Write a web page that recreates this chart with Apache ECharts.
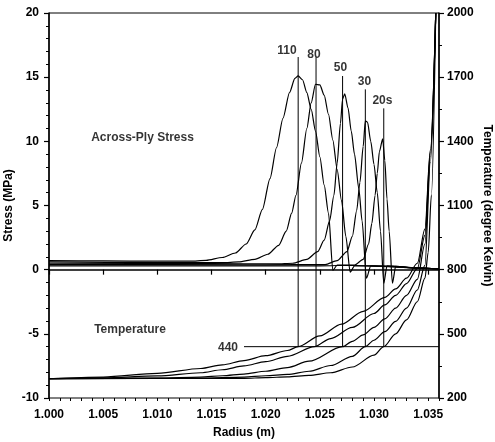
<!DOCTYPE html>
<html><head><meta charset="utf-8">
<script src="https://cdn.jsdelivr.net/npm/echarts@6/dist/echarts.min.js"></script>
<style>html,body{margin:0;padding:0;background:#fff}#c{width:495px;height:442px}</style>
</head><body><div id="c"></div>
<script>
// ---- Across-ply stress (MPa) vs radius (m) ----
const stress110 = [[1.000,0.70],[1.005,0.68],[1.010,0.66],[1.013,0.66],[1.0145,0.72],[1.016,0.95],[1.0172,1.3],[1.0182,2.0],[1.0190,3.1],[1.0197,4.7],[1.0204,7.1],[1.0210,9.5],[1.0216,11.8],[1.0222,13.8],[1.0227,14.9],[1.0230,15.1],[1.0234,14.8],[1.0238,13.8],[1.0242,12.5],[1.0246,10.8],[1.0250,8.8],[1.0254,6.6],[1.0258,4.4],[1.0262,-0.05],[1.0266,0.35],[1.030,0.3],[1.034,0.15],[1.036,0.05]];
const stress80 = [[1.000,0.60],[1.010,0.56],[1.016,0.55],[1.0175,0.6],[1.019,0.8],[1.0202,1.2],[1.0212,1.9],[1.0219,3.0],[1.0224,4.4],[1.0228,5.8],[1.0233,8.3],[1.0238,11.0],[1.0242,13.0],[1.0246,14.45],[1.0250,14.4],[1.0254,13.6],[1.0258,12.1],[1.0262,10.1],[1.0266,7.8],[1.0270,5.4],[1.0274,2.6],[1.0278,-0.2],[1.0282,0.3],[1.030,0.28],[1.034,0.14],[1.036,0.05]];
const stress50 = [[1.000,0.50],[1.015,0.47],[1.021,0.45],[1.0225,0.5],[1.0238,0.8],[1.0248,1.4],[1.0254,2.3],[1.0259,3.8],[1.0263,5.8],[1.0266,8.3],[1.0269,11.4],[1.0271,13.3],[1.0273,13.7],[1.0276,12.6],[1.0279,10.8],[1.0282,9.0],[1.0286,6.3],[1.0289,3.8],[1.0293,-0.67],[1.0297,0.3],[1.032,0.25],[1.034,0.13],[1.036,0.05]];
const stress30 = [[1.000,0.40],[1.020,0.38],[1.0255,0.4],[1.0266,0.7],[1.0275,1.4],[1.0280,2.6],[1.0284,4.6],[1.0287,6.8],[1.0290,9.6],[1.0292,11.6],[1.0294,11.5],[1.0297,10.0],[1.0300,8.2],[1.0303,6.0],[1.0306,3.0],[1.0309,-1.06],[1.0312,0.3],[1.034,0.12],[1.036,0.05]];
const stress20s = [[1.000,0.30],[1.025,0.3],[1.0282,0.35],[1.0290,0.8],[1.0295,2.0],[1.0298,3.6],[1.0301,5.8],[1.0303,7.5],[1.0305,9.2],[1.0308,10.2],[1.0310,8.5],[1.0312,5.5],[1.0314,3.0],[1.0317,-1.06],[1.0320,0.25],[1.034,0.1],[1.036,0.05]];

// ---- Temperature (K) vs radius (m) ----
const temp110 = [[1.000,290],[1.005,298],[1.010,315],[1.014,338],[1.016,355],[1.018,375],[1.020,398],[1.022,422],[1.023,440],[1.025,490],[1.027,545],[1.029,605],[1.031,670],[1.032,710],[1.033,760],[1.034,830],[1.0347,990],[1.0352,1360],[1.0357,2000]];
const temp80 = [[1.000,290],[1.005,294],[1.010,303],[1.014,318],[1.016,332],[1.018,350],[1.020,370],[1.022,395],[1.0245,440],[1.026,478],[1.028,530],[1.030,595],[1.031,635],[1.032,680],[1.033,735],[1.034,805],[1.0347,960],[1.0352,1350],[1.0357,2000]];
const temp50 = [[1.000,290],[1.010,293],[1.014,298],[1.016,304],[1.018,312],[1.020,325],[1.022,342],[1.024,372],[1.0271,440],[1.028,465],[1.029,495],[1.030,530],[1.031,570],[1.032,620],[1.033,680],[1.034,755],[1.0347,920],[1.0352,1330],[1.0357,2000]];
const temp30 = [[1.000,290],[1.014,292],[1.018,298],[1.020,304],[1.022,310],[1.024,325],[1.026,352],[1.028,395],[1.0292,440],[1.030,470],[1.031,510],[1.032,558],[1.033,620],[1.034,705],[1.0347,820],[1.0352,1300],[1.0357,2000]];
const temp20s = [[1.000,290],[1.018,292],[1.020,295],[1.022,299],[1.024,306],[1.026,318],[1.028,345],[1.030,400],[1.0309,440],[1.032,500],[1.033,565],[1.034,650],[1.0347,760],[1.035,880],[1.0353,1150],[1.0357,2000]];

// ---- peak markers (vertical lines from 440 K up to label) ----
const markerNames = ['110','80','50','30','20s'];
const markerRadius = [1.0230,1.02465,1.0271,1.0292,1.0309];
const markerTopStress = [16.57,16.55,15.09,14.05,12.57];
const markerLabelPos = [[1.02197,17.04],[1.02446,16.73],[1.02691,15.75],[1.02912,14.66],[1.03078,13.14]];
const markerTempK = 440;
const line440Start = 1.018;

// ---- text annotations [radius, stress, text] ----
const annotations = [[1.00863,10.30,'Across-Ply Stress'],[1.00748,-4.70,'Temperature'],[1.01652,-6.06,'440']];

// ---- axes ----
const xMin = 1.000, xMax = 1.036, xStep = 0.005, xMinorStep = 0.001;
const stressMin = -10, stressMax = 20, stressStep = 5;
const tempMin = 200, tempMax = 2000, tempStep = 300;

const FONT = 'Liberation Sans, Arial, sans-serif';
const lineStyle = {color:'#000', width:1.2};
const tempToStress = t => stressMin + (t - tempMin) / (tempMax - tempMin) * (stressMax - stressMin);

const series = [];
[stress110, stress80, stress50, stress30, stress20s].forEach(d => series.push({
  type:'line', data:d, xAxisIndex:0, yAxisIndex:0, showSymbol:false, smooth:0.25, smoothMonotone:'x',
  lineStyle, silent:true
}));
[temp110, temp80, temp50, temp30, temp20s].forEach(d => series.push({
  type:'line', data:d, xAxisIndex:0, yAxisIndex:1, showSymbol:false, smooth:0.3, smoothMonotone:'x',
  lineStyle, silent:true
}));
markerRadius.forEach((r,i) => series.push({
  type:'line', data:[[r, tempToStress(markerTempK)],[r, markerTopStress[i]]], xAxisIndex:0, yAxisIndex:0,
  showSymbol:false, lineStyle:{color:'#000', width:1}, silent:true
}));
series.push({
  type:'line', data:[[line440Start, markerTempK],[xMax, markerTempK]], xAxisIndex:0, yAxisIndex:1,
  showSymbol:false, lineStyle:{color:'#000', width:1}, silent:true
});
const textStyle = {show:true, position:'inside', formatter:'{b}', color:'#000', fontFamily:FONT, fontWeight:'bold', fontSize:12};
series.push({
  type:'scatter', xAxisIndex:0, yAxisIndex:0, symbolSize:0, silent:true, label:textStyle,
  data: markerNames.map((n,i) => ({name:n, value:markerLabelPos[i]})).concat(
        annotations.map(a => ({name:a[2], value:[a[0], a[1]]})))
});

const axisLabel = {color:'#000', fontFamily:FONT, fontWeight:'bold', fontSize:12};
const nameTextStyle = {color:'#000', fontFamily:FONT, fontWeight:'bold', fontSize:12};
const chart = echarts.init(document.getElementById('c'), null, {renderer:'canvas'});
chart.setOption({
  animation:false,
  backgroundColor:'#fff',
  grid:{left:49, right:56, top:13, bottom:44, containLabel:false, outerBoundsMode:'none', show:true, borderColor:'#000', borderWidth:1},
  xAxis:[{
    type:'value', position:'bottom', min:xMin, max:xMax, interval:xStep,
    name:'Radius (m)', nameLocation:'middle', nameGap:29, nameMoveOverlap:false, nameTextStyle,
    axisLine:{show:true, lineStyle:{color:'#000', width:1.5}},
    axisTick:{show:true, length:5, lineStyle:{color:'#000', width:1.2}},
    axisLabel:Object.assign({margin:11, showMaxLabel:false, formatter:v => v.toFixed(3)}, axisLabel),
    splitLine:{show:false}
  },{
    type:'value', position:'bottom', min:xMin, max:xMax, interval:xMinorStep,
    axisLine:{show:false}, axisTick:{show:true, length:3, lineStyle:{color:'#000', width:1}},
    axisLabel:{show:false}, splitLine:{show:false}
  }],
  yAxis:[{
    type:'value', position:'left', min:stressMin, max:stressMax, interval:stressStep,
    name:'Stress (MPa)', nameLocation:'middle', nameGap:34, nameMoveOverlap:false, nameTextStyle,
    axisLine:{show:true, lineStyle:{color:'#000', width:1.5}},
    axisTick:{show:true, length:5, lineStyle:{color:'#000', width:1.2}},
    minorTick:{show:true, splitNumber:5, length:3, lineStyle:{color:'#000', width:1}},
    axisLabel:Object.assign({margin:10, formatter:v => String(v)}, axisLabel),
    splitLine:{show:false}
  },{
    type:'value', position:'right', min:tempMin, max:tempMax, interval:tempStep,
    name:'Temperature (degree Kelvin)', nameLocation:'middle', nameGap:42, nameRotate:-90, nameMoveOverlap:false, nameTextStyle,
    axisLine:{show:true, lineStyle:{color:'#000', width:1.5}},
    axisTick:{show:true, length:5, lineStyle:{color:'#000', width:1.2}},
    minorTick:{show:true, splitNumber:2, length:3, lineStyle:{color:'#000', width:1}},
    axisLabel:Object.assign({margin:8, formatter:v => String(v)}, axisLabel),
    splitLine:{show:false}
  }],
  series
});
</script></body></html>
